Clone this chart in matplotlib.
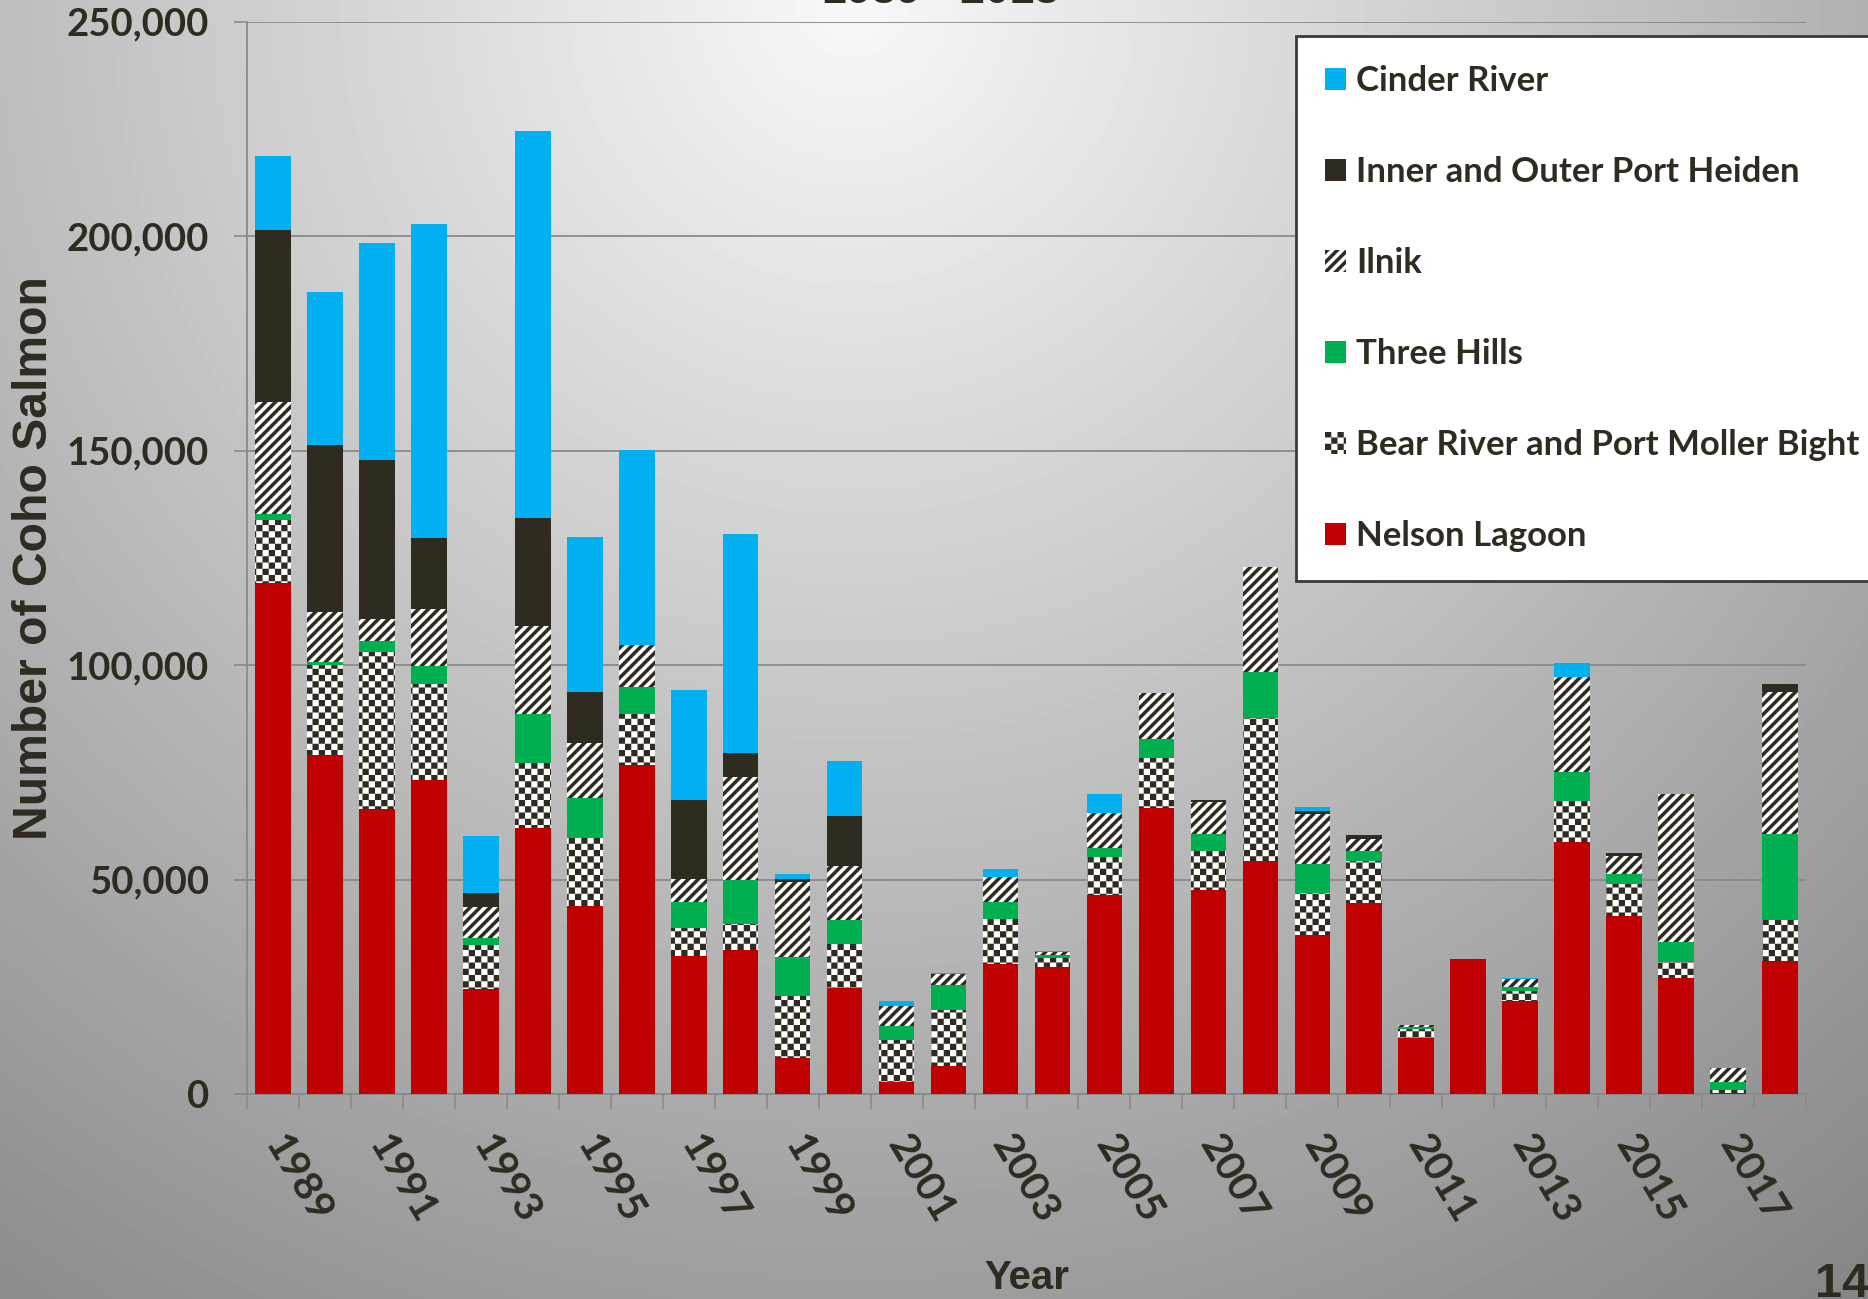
import numpy as np
import matplotlib
matplotlib.use("Agg")
import matplotlib.pyplot as plt
import matplotlib.hatch as mhatch
from matplotlib.path import Path
from matplotlib.ticker import FuncFormatter

years = list(range(1989, 2019))
nelson_lagoon = [119000, 79100, 66400, 73300, 24400, 62000, 43900, 76600, 32100, 33500,
                 8300, 24800, 2800, 6500, 30400, 29700, 46400, 66700, 47500, 54300,
                 37000, 44600, 13000, 31400, 21600, 58700, 41400, 27100, 300, 31000]
bear_river = [14900, 20900, 36600, 22200, 10300, 15200, 15700, 11900, 6500, 6200,
              14500, 10200, 9900, 13100, 10400, 1900, 8900, 11700, 9100, 33400,
              9900, 9700, 2200, 0, 2400, 9700, 7600, 3700, 700, 9600]
three_hills = [1300, 800, 2600, 4300, 1700, 11300, 9500, 6300, 6200, 10100,
               9200, 5600, 3200, 5800, 4000, 700, 2100, 4400, 4000, 10600,
               6700, 2300, 500, 0, 1000, 6600, 2300, 4700, 1700, 20000]
ilnik = [26000, 11500, 5100, 13200, 7200, 20700, 12700, 9900, 5300, 24000,
         17400, 12500, 4500, 2500, 5700, 700, 8000, 10600, 7400, 24600,
         11700, 2900, 500, 0, 1700, 22100, 4200, 34400, 3400, 33200]
port_heiden = [40100, 38900, 37100, 16700, 3200, 25000, 12000, 0, 18500, 5800,
               800, 11600, 0, 0, 0, 0, 0, 0, 600, 0,
               600, 800, 0, 0, 0, 0, 600, 0, 0, 1800]
cinder_river = [17400, 35700, 50500, 73000, 13300, 90200, 36100, 45400, 25500, 50900,
                1100, 12900, 1300, 400, 2000, 400, 4600, 0, 0, 0,
                900, 0, 0, 0, 300, 3400, 0, 0, 0, 0]

names = ["Nelson Lagoon", "Bear River and Port Moller Bight", "Three Hills",
         "Ilnik", "Inner and Outer Port Heiden", "Cinder River"]
values = [nelson_lagoon, bear_river, three_hills, ilnik, port_heiden, cinder_river]

DARK = "#2f2b20"
GRID = "#8a8a8a"
faces = ["#c00000", "white", "#00b050", "white", DARK, "#00b0f0"]
hatches = [None, "...", None, "**", None, None]


# custom filled hatches: '.' -> checkerboard, '*' -> thick diagonal stripes
class CheckerHatch(mhatch.HatchPatternBase):
    def __init__(self, hatch, density):
        self.n = 16 if "." in hatch else 0
        self.num_vertices = (self.n * self.n // 2) * 5

    def set_vertices_and_codes(self, vertices, codes):
        s = 1.0 / self.n
        k = 0
        for i in range(self.n):
            for j in range(self.n):
                if (i + j) % 2:
                    continue
                x0, y0 = i * s, j * s
                vertices[k:k + 5] = [(x0, y0), (x0 + s, y0), (x0 + s, y0 + s),
                                     (x0, y0 + s), (x0, y0)]
                codes[k] = Path.MOVETO
                codes[k + 1:k + 4] = Path.LINETO
                codes[k + 4] = Path.CLOSEPOLY
                k += 5


class StripeHatch(mhatch.HatchPatternBase):
    def __init__(self, hatch, density):
        self.m = 10 if "*" in hatch else 0
        self.offsets = np.arange(-2 * self.m, 2 * self.m + 1) / self.m if self.m else []
        self.num_vertices = len(self.offsets) * 5

    def set_vertices_and_codes(self, vertices, codes):
        w = 0.5 / self.m
        for k, c in enumerate(self.offsets):
            vertices[k * 5:k * 5 + 5] = [(-1, c - 1), (2, c + 2), (2, c + 2 + w),
                                         (-1, c - 1 + w), (-1, c - 1)]
            codes[k * 5] = Path.MOVETO
            codes[k * 5 + 1:k * 5 + 4] = Path.LINETO
            codes[k * 5 + 4] = Path.CLOSEPOLY


mhatch._hatch_types = [h for h in mhatch._hatch_types
                       if h not in (mhatch.SmallFilledCircles, mhatch.Stars)]
mhatch._hatch_types += [CheckerHatch, StripeHatch]

plt.rcParams["hatch.color"] = DARK
plt.rcParams["hatch.linewidth"] = 0.01

W, H = 1868, 1299
fig = plt.figure(figsize=(W / 100, H / 100), dpi=100)

# gray radial background
bg = fig.add_axes([0, 0, 1, 1], zorder=-10)
yy, xx = np.mgrid[0:H:4, 0:W:4]
dist = np.hypot(xx - 850, yy)
shade = np.clip(248 - 0.07 * dist, 0, 255) / 255
bg.imshow(shade, cmap="gray", vmin=0, vmax=1, extent=[0, 1, 0, 1],
          aspect="auto", origin="upper", interpolation="bilinear")
bg.axis("off")

ax = fig.add_axes([247 / W, 1 - 1094 / H, (1806 - 247) / W, (1094 - 21.5) / H])
ax.set_facecolor("none")

x = np.arange(len(years))
bottom = np.zeros(len(years))
for name, vals, fc, ht in zip(names, values, faces, hatches):
    ax.bar(x, vals, width=0.685, bottom=bottom, color=fc, hatch=ht,
           linewidth=0, label=name, zorder=3)
    bottom += np.array(vals)

ax.set_xlim(-0.5, len(years) - 0.5)
ax.set_ylim(0, 250000)
ax.set_yticks(np.arange(0, 250001, 50000))
ax.yaxis.set_major_formatter(FuncFormatter(lambda v, p: f"{v:,.0f}"))
ax.grid(axis="y", color=GRID, linewidth=1.3)
ax.set_axisbelow(True)

for s in ["top", "right"]:
    ax.spines[s].set_visible(False)
for s in ["left", "bottom"]:
    ax.spines[s].set_color(GRID)
    ax.spines[s].set_linewidth(1.3)

ax.set_xticks(x[::2], [str(y) for y in years[::2]], rotation=-59, ha="left",
              va="center", rotation_mode="anchor", color=DARK,
              family="Lato", weight="bold", size=29.5)
ax.set_xticks(np.arange(-0.5, len(years), 1), minor=True)
ax.tick_params(axis="x", which="major", length=0, pad=32)
ax.tick_params(axis="x", which="minor", length=10.8, width=1.2, color=GRID)
ax.tick_params(axis="y", length=9.4, width=1.2, color=GRID, pad=18)
for lab in ax.get_yticklabels():
    lab.set_color(DARK)
    lab.set_fontfamily("Lato")
    lab.set_fontweight("bold")
    lab.set_fontsize(27.5)

ax.set_ylabel("Number of Coho Salmon", fontsize=34.7, fontweight="bold",
              family="Liberation Sans", color=DARK)
ax.yaxis.set_label_coords(-0.136, 0.5)
ax.yaxis.label.set_va("center")
ax.set_xlabel("Year", fontsize=29, fontweight="bold", family="Liberation Sans", color=DARK)
ax.xaxis.set_label_coords(0.5, -0.1716)
ax.xaxis.label.set_va("center")

handles, labels = ax.get_legend_handles_labels()
leg = fig.legend(handles[::-1], labels[::-1], loc="upper left",
                 bbox_to_anchor=(1296 / W, 1 - 36 / H), borderaxespad=0,
                 prop=dict(family="Lato", weight="bold", size=25),
                 labelcolor=DARK, fancybox=False, framealpha=1,
                 handlelength=0.6, handleheight=0.6, handletextpad=0.3,
                 labelspacing=1.70, borderpad=0.84)
leg.get_frame().set_edgecolor("#3a3a3a")
leg.get_frame().set_linewidth(2)

fig.text(941 / W, 1 - 3 / H, "1989 - 2018", ha="center", va="baseline",
         fontsize=32, fontweight="bold", family="Liberation Sans", color=DARK)
fig.text(1815 / W, 2 / H, "14", ha="left", va="baseline",
         fontsize=35, fontweight="bold", family="Liberation Sans", color=DARK)

fig.savefig("out.png", dpi=100)
